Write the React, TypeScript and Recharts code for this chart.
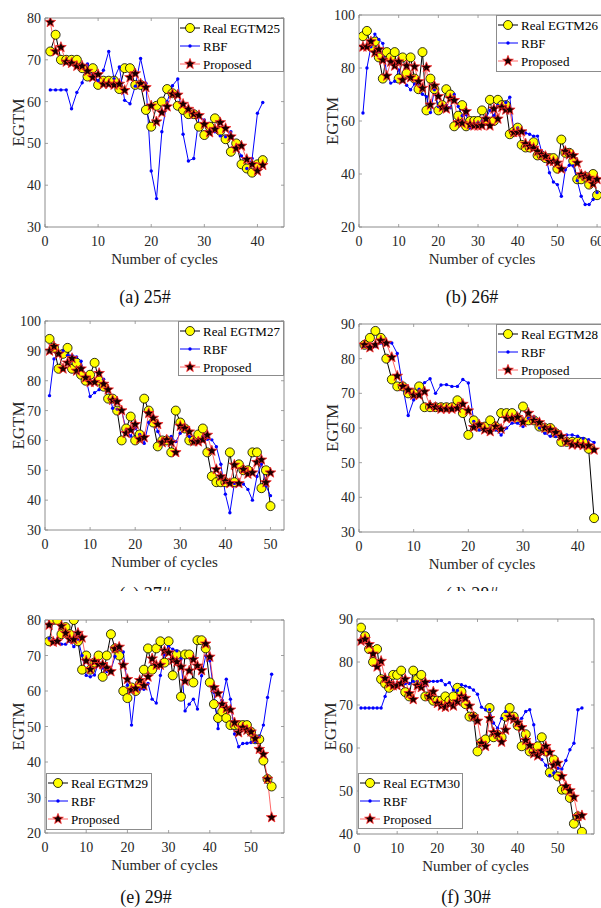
import React from 'react';
import { LineChart, Line, XAxis, YAxis, Legend } from 'recharts';

const FONT = '"Liberation Serif", "Times New Roman", serif';
const AXIS = '#8c8c8c';
const TXT = '#262626';

// ---------- Data ----------
const real25 = [72, 76, 70, 70, 70, 70, 68, 66, 68, 64, 65, 65, 65, 63, 68, 68, 64, 64, 58, 54, 59, 60, 63, 62, 59, 58, 57, 57, 54, 52, 54, 56, 53, 51, 48, 50, 45, 44, 43, 45, 46];
const rbf25 = [62.8, 62.8, 62.8, 62.8, 58.3, 62.2, 64.5, 69, 66.5, 65, 67.5, 72, 65.5, 68.3, 60.3, 59.5, 63.7, 70.3, 64.4, 43.4, 36.8, 52.8, 60, 63.8, 65.4, 52.2, 45.8, 46.4, 56.4, 55.6, 53.2, 52.8, 51.8, 51.6, 52.8, 49.2, 47, 44, 46.4, 57.2, 59.8];
const prop25 = [79, 72, 73, 69.5, 69.2, 68.5, 68.5, 67.3, 65.8, 66.5, 64.2, 64.2, 64, 64.2, 62.7, 65.8, 66.7, 64.3, 63.4, 59, 55.2, 57.4, 58.8, 61.8, 61.6, 59.4, 58.2, 57, 56.7, 54.6, 52.6, 53.4, 55, 53.6, 51.6, 48.8, 49.4, 46.2, 45, 43.4, 44.8];

const real26 = [92, 94, 88, 90, 84, 76, 86, 84, 86, 76, 84, 78, 84, 76, 72, 86, 64, 76, 72, 64, 66, 72, 70, 58, 62, 66, 58, 60, 60, 60, 64, 60, 68, 60, 68, 66, 66, 55, 56, 57.5, 51, 50, 50, 52, 47, 47, 46, 46, 46, 42, 53, 48, 48, 45, 38, 38, 39, 36, 40, 32];
const rbf26 = [63, 80, 88, 92.8, 90.8, 89.3, 77.4, 74.3, 75, 79.3, 75, 73.5, 71.8, 74, 74, 70.1, 69.2, 63.2, 71.8, 65.5, 65, 66, 65, 70, 65.5, 62, 62.4, 57.4, 59, 59.5, 60, 61, 64, 62, 66, 66, 67, 69, 56.2, 57.4, 56, 55.5, 55, 54.3, 54.3, 48.6, 46.8, 40.5, 37, 36, 31.6, 41.6, 43.3, 43, 37.5, 31.6, 28.5, 28.5, 30.4, 33];
const prop26 = [88, 88, 90, 85.8, 87, 83, 77, 82.3, 80.8, 82.4, 75.5, 80.8, 76.4, 80.5, 74.9, 72.4, 80.2, 66.1, 73.3, 69.3, 65.2, 64.6, 68.5, 67.8, 59.5, 59.2, 63.6, 58.6, 58.2, 58.2, 58.3, 60.8, 58.2, 64.6, 60.8, 65.2, 64.2, 64.2, 55.7, 55.7, 56, 51.4, 50.4, 49.8, 48.5, 47.3, 46.7, 44.8, 44.8, 44.2, 41.9, 48.6, 47.3, 47, 44.2, 39.8, 39.1, 38.5, 36.3, 38];

const real27 = [94, 91, 84, 89, 91, 84, 86, 82, 80, 82, 86, 80, 78, 74, 74, 70, 60, 64, 68, 60, 62, 74, 70, 66, 58, 60, 60, 56, 70, 66, 64, 60, 60, 62, 64, 56, 48, 46, 46, 46, 56, 46, 52, 50, 50, 56, 56, 44, 50, 38];
const rbf27 = [75, 87.3, 89.2, 90, 88.5, 88.5, 88, 86.5, 81.1, 74.7, 76, 77, 80.5, 77, 70.8, 70.5, 70, 63.5, 61.5, 64, 62, 59, 66, 68, 63, 60, 60.4, 61.3, 59.6, 62.4, 64.3, 61.3, 60.2, 60.4, 61.3, 60.4, 60.2, 57.9, 52, 42, 35.8, 45.6, 45.6, 45.4, 43.6, 40, 47.9, 52.1, 44.8, 41.5];
const prop27 = [90, 91.5, 89, 84, 86, 87.5, 83.3, 84, 81, 79.5, 79.5, 82.5, 78.9, 77, 73.5, 73, 70, 62.4, 63.5, 65.4, 60.4, 61, 69.1, 67.5, 65.4, 59.3, 60.2, 59.3, 56, 64.8, 64.1, 62.9, 59.6, 59.6, 60.2, 61.8, 56.5, 50.3, 47.9, 46.4, 45.6, 51.8, 45.6, 50.3, 48.8, 49.2, 52.7, 53.5, 45.9, 49.2];

const real28 = [84, 86, 88, 86, 80, 74, 72, 72, 70, 70, 72, 66, 66, 66, 66, 66, 66, 68, 64.3, 58, 62.2, 60.4, 60.4, 62.2, 60.4, 64.3, 64.3, 64.3, 62.8, 66.2, 62.2, 62.2, 60.4, 60, 60, 58.5, 56, 56, 56, 56, 56, 54, 34];
const rbf28 = [83.5, 83.5, 83.5, 84.5, 84.5, 84.5, 81.5, 72, 63.6, 68.1, 71.2, 73.1, 74.2, 70, 72.4, 72.5, 72, 72, 74, 73, 61.9, 59.5, 59.5, 59, 59.5, 58, 60, 61.4, 61.4, 60.4, 62.8, 63.1, 60, 58.5, 57.6, 57.6, 57.6, 58, 58, 57.6, 57, 56.6, 55.8];
const prop28 = [84, 83.2, 84, 85.2, 84.5, 80.4, 75, 72, 71, 69.5, 69.5, 70.5, 66.5, 66, 65.5, 65.5, 65.5, 65.7, 66.9, 65, 60.2, 60.9, 59.5, 59, 60.4, 59.7, 62.8, 62.8, 63.1, 61.7, 64.3, 62.2, 61.6, 60, 59.5, 58.7, 57.6, 56, 55.2, 55.2, 55, 54.9, 53.7];

const real29 = [74, 80, 80, 76, 78, 76, 80, 74, 66, 70, 66, 68, 70, 64, 70, 76, 72, 70, 60, 58, 61, 60, 62, 66, 72, 66, 72, 74, 68, 74, 64.4, 70.3, 58.4, 70.3, 70.3, 62.4, 74.3, 74.3, 72, 62.4, 56.3, 52.4, 54.2, 52.4, 50.4, 50.4, 50.4, 50.4, 50.4, 48.5, 46.4, 46.4, 40.4, 35.2, 33.1];
const rbf29 = [74.8, 74.5, 74.5, 73.2, 73.2, 74, 72.5, 74.6, 70, 64.4, 64, 64.5, 68, 66.5, 65.5, 66, 69.7, 71.9, 71, 61.6, 50.4, 60.5, 60.5, 60.5, 62.1, 57.7, 56.6, 64.4, 70.3, 72.5, 71.8, 71.3, 69, 54.4, 56.3, 57.7, 54.9, 64.3, 69.9, 68.5, 59.6, 49.4, 57.4, 63.3, 57.7, 47.9, 44.3, 45.2, 45.3, 45.5, 45.7, 47.1, 50.4, 58.2, 64.7];
const prop29 = [78.6, 73.8, 74, 78.3, 76.3, 74.6, 74.5, 76.3, 75, 68.5, 66.1, 68.3, 67.5, 67.5, 66.5, 65.5, 71.9, 72.4, 67.3, 63.3, 60.3, 60.7, 63, 61.5, 64, 69.1, 67.3, 67.3, 71.3, 70.8, 68.7, 68.2, 66.8, 62.8, 65.7, 68.9, 67.1, 65.8, 73.3, 69.6, 61, 59.3, 56.3, 55.1, 54.7, 51.1, 48.3, 49.7, 49, 48.5, 46.6, 43.6, 42.2, 35.2, 24.4];

const real30 = [88, 86, 83, 80, 83, 76, 75, 74, 77, 77, 78, 73, 72, 78, 76, 77, 72, 72, 71, 71, 71, 72, 71, 72, 74, 73.1, 70.2, 67.3, 67.3, 59.2, 61.3, 62, 69.3, 62.5, 63.1, 62.5, 67.3, 69.3, 67.3, 65.2, 60.4, 63.2, 59.2, 59.2, 60.4, 62.5, 59.2, 54.3, 57.3, 53.4, 50.3, 50.3, 48.4, 42.4, 44.1, 40.5];
const rbf30 = [69.3, 69.3, 69.3, 69.3, 69.3, 69.3, 72, 75, 75, 75, 75, 75, 75, 75.5, 75.5, 75, 74.5, 75.5, 75.5, 75.5, 75.7, 74.7, 75.2, 73.5, 73.4, 74.7, 74.4, 74.1, 73.5, 72.5, 69.5, 68.9, 68.9, 65.8, 64.6, 66.9, 68.5, 67.2, 67.2, 66.2, 66.9, 68.5, 68.9, 65.4, 58.7, 57.3, 56, 53.6, 54.2, 55.3, 55.1, 57.1, 59.6, 61.1, 68.9, 69.3];
const prop30 = [84.9, 85.3, 84.1, 81.9, 78.9, 80.2, 76.2, 75, 74.5, 74.5, 75, 76, 72.7, 71.3, 74.5, 74.1, 75.3, 72, 73.1, 70.4, 69.8, 69.5, 70.2, 69.8, 70.8, 72, 71.6, 69.8, 67.3, 66.3, 61.1, 60.4, 66.9, 63.6, 63.2, 61.4, 64.2, 67.2, 66.7, 65.9, 64.8, 61.8, 60.6, 58.7, 58.2, 59.3, 60.4, 59, 56, 56.5, 53.4, 51.1, 50.1, 48.6, 44.1, 44.3];

// tick labels
const xTicks40 = [0, 10, 20, 30, 40];
const xTicks50 = [0, 10, 20, 30, 40, 50];
const xTicks60 = [0, 10, 20, 30, 40, 50, 60];
const yTicks3080 = [30, 40, 50, 60, 70, 80];
const yTicks20100 = [20, 40, 60, 80, 100];
const yTicks30100 = [30, 40, 50, 60, 70, 80, 90, 100];
const yTicks3090 = [30, 40, 50, 60, 70, 80, 90];
const yTicks2080 = [20, 30, 40, 50, 60, 70, 80];
const yTicks4090 = [40, 50, 60, 70, 80, 90];

const seriesNames = ['RBF', 'Proposed'];
const captions = ['(a) 25#', '(b) 26#', '(c) 27#', '(d) 28#', '(e) 29#', '(f) 30#'];

// ---------- helpers ----------
function buildRows(real: number[], rbf: number[], prop: number[]) {
  return real.map((v, i) => ({ cycle: i + 1, real: v, rbf: rbf[i], prop: prop[i] }));
}

function starPath(cx: number, cy: number, R: number) {
  const r = R * 0.42;
  let d = '';
  for (let k = 0; k < 10; k++) {
    const a = -Math.PI / 2 + (k * Math.PI) / 5;
    const rr = k % 2 === 0 ? R : r;
    d += (k === 0 ? 'M' : 'L') + (cx + rr * Math.cos(a)).toFixed(2) + ',' + (cy + rr * Math.sin(a)).toFixed(2);
  }
  return d + 'Z';
}

const circleDot = (p: any) =>
  p.cx == null || p.cy == null ? <g key={`c${p.index}`} /> : (
    <circle key={`c${p.index}`} cx={p.cx} cy={p.cy} r={4.5} fill="#FFFF00" stroke="#000" strokeWidth={0.8} />
  );
const blueDot = (p: any) =>
  p.cx == null || p.cy == null ? <g key={`b${p.index}`} /> : (
    <circle key={`b${p.index}`} cx={p.cx} cy={p.cy} r={1.7} fill="#0000FF" stroke="none" />
  );
const starDot = (p: any) =>
  p.cx == null || p.cy == null ? <g key={`s${p.index}`} /> : (
    <path key={`s${p.index}`} d={starPath(p.cx, p.cy, 5.6)} fill="#1a0000" stroke="#ff2a2a" strokeWidth={0.8} />
  );

const BottomTick = (p: any) => (
  <g>
    <line x1={p.x} y1={p.y} x2={p.x} y2={p.y - 3} stroke={AXIS} strokeWidth={0.8} />
    <text x={p.x} y={p.y + 19} textAnchor="middle" fontSize={14} fill={TXT} fontFamily={FONT}>
      {p.payload.value}
    </text>
  </g>
);
const TopTick = (p: any) => <line x1={p.x} y1={p.y} x2={p.x} y2={p.y + 3} stroke={AXIS} strokeWidth={0.8} />;
const LeftTick = (p: any) => (
  <g>
    <line x1={p.x} y1={p.y} x2={p.x + 3} y2={p.y} stroke={AXIS} strokeWidth={0.8} />
    <text x={p.x - 4} y={p.y + 5} textAnchor="end" fontSize={14} fill={TXT} fontFamily={FONT}>
      {p.payload.value}
    </text>
  </g>
);
const RightTick = (p: any) => <line x1={p.x} y1={p.y} x2={p.x - 3} y2={p.y} stroke={AXIS} strokeWidth={0.8} />;

function LegendBox({ realName, w, h }: { realName: string; w: number; h: number }) {
  const rows = [10, 28, 46];
  const lx0 = 2, lx1 = 22, mx = 12, tx = 25;
  return (
    <svg width={w} height={h} style={{ display: 'block' }}>
      <rect x={0.5} y={0.5} width={w - 1} height={h - 1} fill="#fff" stroke={AXIS} strokeWidth={1} />
      <line x1={lx0} y1={rows[0]} x2={lx1} y2={rows[0]} stroke="#000" strokeWidth={1} />
      <circle cx={mx} cy={rows[0]} r={4.5} fill="#FFFF00" stroke="#000" strokeWidth={0.8} />
      <text x={tx} y={rows[0] + 5} fontSize={13} fontFamily={FONT} fill="#000">{realName}</text>
      <line x1={lx0} y1={rows[1]} x2={lx1} y2={rows[1]} stroke="#0000FF" strokeWidth={1} />
      <circle cx={mx} cy={rows[1]} r={1.7} fill="#0000FF" />
      <text x={tx} y={rows[1] + 5} fontSize={13} fontFamily={FONT} fill="#000">{seriesNames[0]}</text>
      <line x1={lx0} y1={rows[2]} x2={lx1} y2={rows[2]} stroke="#ff4040" strokeWidth={0.8} />
      <path d={starPath(mx, rows[2], 5.6)} fill="#1a0000" stroke="#ff2a2a" strokeWidth={0.8} />
      <text x={tx} y={rows[2] + 5} fontSize={13} fontFamily={FONT} fill="#000">{seriesNames[1]}</text>
    </svg>
  );
}

type PanelProps = {
  px: number; py: number; pw: number; ph: number;
  xDomain: [number, number]; xTicks: number[];
  yDomain: [number, number]; yTicks: number[];
  real: number[]; rbf: number[]; prop: number[];
  realName: string;
  leg: { left: number; top: number; w: number; h: number };
};

function Panel(props: PanelProps) {
  const { px, py, pw, ph, xDomain, xTicks, yDomain, yTicks, real, rbf, prop, realName, leg } = props;
  const left = px - 45;
  const top = py - 10;
  const width = pw + 55;
  const height = ph + 60;
  const rows = buildRows(real, rbf, prop);
  return (
    <div style={{ position: 'absolute', left, top, width, height }}>
      <LineChart width={width} height={height} data={rows} margin={{ top: 9, right: 9, left: 0, bottom: 0 }}>
        <XAxis
          dataKey="cycle" type="number" domain={xDomain} ticks={xTicks} allowDataOverflow interval={0}
          height={50} tickSize={0} tickMargin={0} tickLine={false}
          axisLine={{ stroke: AXIS, strokeWidth: 1 }} tick={<BottomTick />}
          label={{ value: 'Number of cycles', position: 'insideTop', offset: 26, style: { fontSize: 15, fontFamily: FONT, fill: TXT } }}
        />
        <XAxis
          xAxisId="top" orientation="top" dataKey="cycle" type="number" domain={xDomain} ticks={xTicks} allowDataOverflow interval={0}
          height={1} tickSize={0} tickMargin={0} tickLine={false}
          axisLine={{ stroke: AXIS, strokeWidth: 1 }} tick={<TopTick />}
        />
        <YAxis
          type="number" domain={yDomain} ticks={yTicks} allowDataOverflow interval={0}
          width={45} tickSize={0} tickMargin={0} tickLine={false}
          axisLine={{ stroke: AXIS, strokeWidth: 1 }} tick={<LeftTick />}
          label={{ value: 'EGTM', angle: -90, position: 'center', dx: -5, style: { fontSize: 17, fontFamily: FONT, fill: TXT } }}
        />
        <YAxis
          yAxisId="right" orientation="right" type="number" domain={yDomain} ticks={yTicks} allowDataOverflow interval={0}
          width={1} tickSize={0} tickMargin={0} tickLine={false}
          axisLine={{ stroke: AXIS, strokeWidth: 1 }} tick={<RightTick />}
        />
        <Line type="linear" dataKey="real" name={realName} stroke="#000" strokeWidth={1} dot={circleDot} activeDot={false} isAnimationActive={false} />
        <Line type="linear" dataKey="rbf" name={seriesNames[0]} stroke="#0000FF" strokeWidth={1} dot={blueDot} activeDot={false} isAnimationActive={false} />
        <Line type="linear" dataKey="prop" name={seriesNames[1]} stroke="#ff4040" strokeWidth={0.8} dot={starDot} activeDot={false} isAnimationActive={false} />
        <Legend
          layout="vertical" align="center" verticalAlign="middle"
          wrapperStyle={{ position: 'absolute', left: leg.left - left, top: leg.top - top, width: leg.w, height: leg.h, margin: 0 }}
          content={() => <LegendBox realName={realName} w={leg.w} h={leg.h} />}
        />
      </LineChart>
    </div>
  );
}

function Caption({ text, cx, cy }: { text: string; cx: number; cy: number }) {
  return (
    <div style={{ position: 'absolute', left: cx - 60, top: cy - 11, width: 120, height: 22, lineHeight: '22px', textAlign: 'center', fontSize: 18, fontFamily: FONT, color: '#111' }}>
      {text}
    </div>
  );
}

export default function App() {
  return (
    <div style={{ position: 'absolute', left: 0, top: 0, width: 601, height: 908, overflow: 'hidden', background: '#fff', fontFamily: FONT }}>
      <Panel px={45} py={18} pw={239} ph={209} xDomain={[0, 45]} xTicks={xTicks40} yDomain={[30, 80]} yTicks={yTicks3080}
        real={real25} rbf={rbf25} prop={prop25} realName="Real EGTM25" leg={{ left: 178, top: 18, w: 106, h: 54 }} />
      <Panel px={359} py={15} pw={246} ph={212} xDomain={[0, 62]} xTicks={xTicks60} yDomain={[20, 100]} yTicks={yTicks20100}
        real={real26} rbf={rbf26} prop={prop26} realName="Real EGTM26" leg={{ left: 496, top: 15, w: 125, h: 57 }} />
      <Panel px={45} py={321} pw={239} ph={209} xDomain={[0, 53]} xTicks={xTicks50} yDomain={[30, 100]} yTicks={yTicks30100}
        real={real27} rbf={rbf27} prop={prop27} realName="Real EGTM27" leg={{ left: 178, top: 321, w: 106, h: 55 }} />
      <Panel px={359} py={324} pw={246} ph={208} xDomain={[0, 45]} xTicks={xTicks40} yDomain={[30, 90]} yTicks={yTicks3090}
        real={real28} rbf={rbf28} prop={prop28} realName="Real EGTM28" leg={{ left: 496, top: 324, w: 125, h: 55 }} />
      <Caption text={captions[0]} cx={145} cy={297} />
      <Caption text={captions[1]} cx={472} cy={297} />
      <Caption text={captions[2]} cx={145} cy={594} />
      <Caption text={captions[3]} cx={472} cy={594} />
      <div style={{ position: 'absolute', left: 0, top: 591, width: 601, height: 20, background: '#fff' }} />
      <Panel px={45} py={620} pw={239} ph={213} xDomain={[0, 58]} xTicks={xTicks50} yDomain={[20, 80]} yTicks={yTicks2080}
        real={real29} rbf={rbf29} prop={prop29} realName="Real EGTM29" leg={{ left: 46, top: 773, w: 106, h: 57 }} />
      <Panel px={357} py={619} pw={237} ph={215} xDomain={[0, 59]} xTicks={xTicks50} yDomain={[40, 90]} yTicks={yTicks4090}
        real={real30} rbf={rbf30} prop={prop30} realName="Real EGTM30" leg={{ left: 357.5, top: 773, w: 105, h: 56 }} />
      <Caption text={captions[4]} cx={146} cy={897} />
      <Caption text={captions[5]} cx={466} cy={897} />
    </div>
  );
}
